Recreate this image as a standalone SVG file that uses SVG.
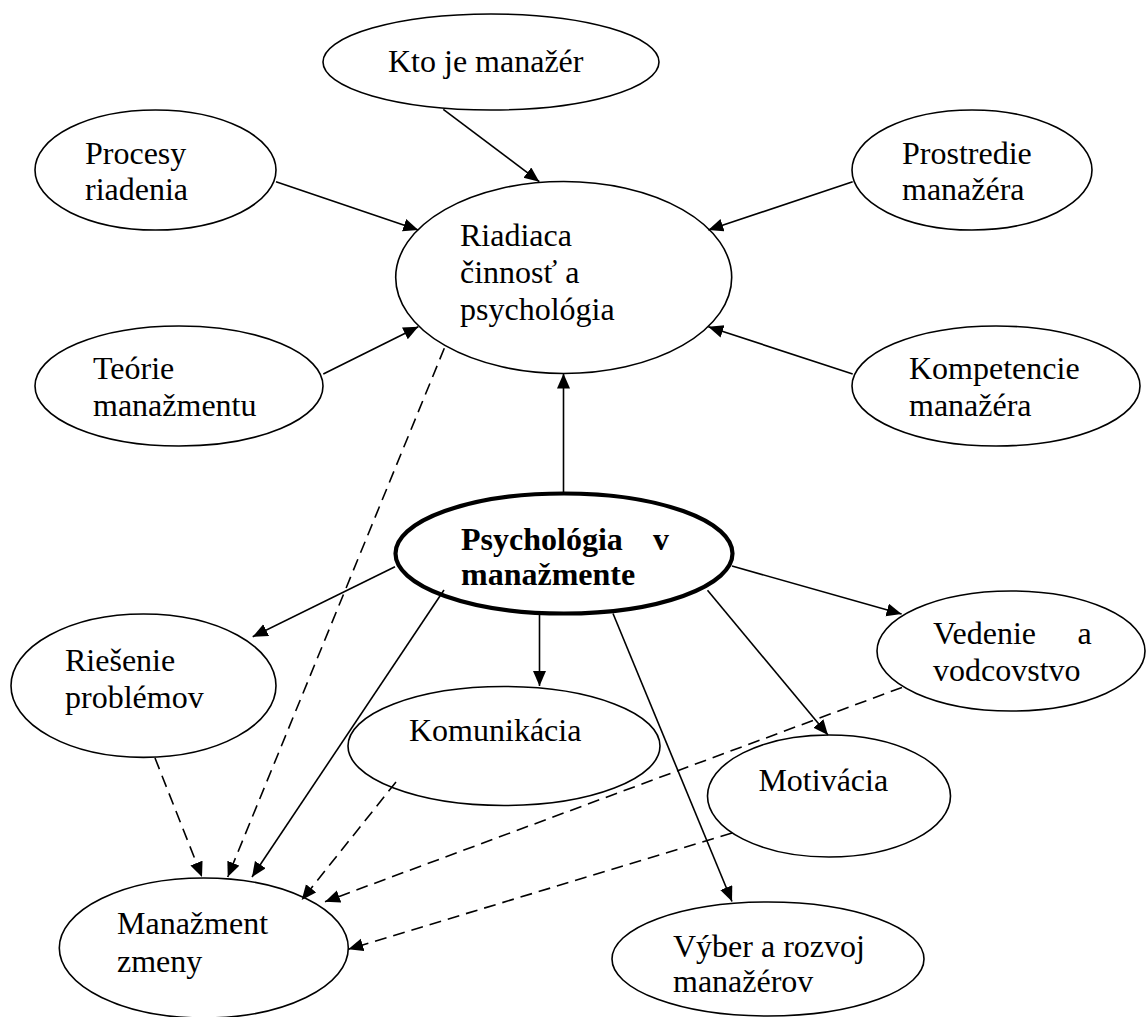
<svg xmlns="http://www.w3.org/2000/svg" width="1146" height="1017" viewBox="0 0 1146 1017">
<style>
.n{fill:#fff;stroke:#000;stroke-width:1.6}
.b{fill:#fff;stroke:#000;stroke-width:4.2}
.t{font-family:"Liberation Serif","Times New Roman",serif;font-size:32px;fill:#000}
.tb{font-family:"Liberation Serif","Times New Roman",serif;font-size:32px;font-weight:bold;fill:#000}
.c{fill:none;stroke:#000;stroke-width:1.6;marker-end:url(#ah)}
.d{stroke-dasharray:12 7}
</style>
<defs>
<marker id="ah" markerUnits="userSpaceOnUse" markerWidth="16" markerHeight="14" refX="15" refY="6.5" orient="auto">
<path d="M0,0 L15,6.5 L0,13 Z" fill="#000"/>
</marker>
</defs>
<rect width="1146" height="1017" fill="#fff"/>
<g id="kto"><ellipse class="n" cx="491" cy="62" rx="168" ry="48"/><text class="t" x="388" y="72">Kto je manažér</text></g>
<g id="procesy"><ellipse class="n" cx="155.5" cy="170" rx="120.5" ry="60"/><text class="t" x="85" y="164">Procesy</text><text class="t" x="85" y="200">riadenia</text></g>
<g id="prostredie"><ellipse class="n" cx="972" cy="170" rx="120" ry="60"/><text class="t" x="902" y="164">Prostredie</text><text class="t" x="902" y="200">manažéra</text></g>
<g id="riadiaca"><ellipse class="n" cx="563.7" cy="277.5" rx="168" ry="96"/><text class="t" x="460" y="246">Riadiaca</text><text class="t" x="460" y="283">činnosť a</text><text class="t" x="460" y="320">psychológia</text></g>
<g id="teorie"><ellipse class="n" cx="179" cy="386" rx="144" ry="60"/><text class="t" x="93" y="379">Teórie</text><text class="t" x="93" y="416">manažmentu</text></g>
<g id="kompetencie"><ellipse class="n" cx="996" cy="386" rx="144" ry="60"/><text class="t" x="909" y="379">Kompetencie</text><text class="t" x="909" y="416">manažéra</text></g>
<g id="psychologia"><ellipse class="b" cx="564" cy="553.5" rx="168.5" ry="60"/><text class="tb" x="461" y="550">Psychológia</text><text class="tb" x="653" y="550">v</text><text class="tb" x="461" y="585">manažmente</text></g>
<g id="riesenie"><ellipse class="n" cx="143.5" cy="685.7" rx="132.5" ry="71.7"/><text class="t" x="65" y="670.7">Riešenie</text><text class="t" x="65" y="708.3">problémov</text></g>
<g id="vedenie"><ellipse class="n" cx="1011" cy="651" rx="134" ry="60"/><text class="t" x="933" y="644">Vedenie</text><text class="t" x="1077.6" y="644">a</text><text class="t" x="933" y="681">vodcovstvo</text></g>
<g id="komunikacia"><ellipse class="n" cx="504" cy="746" rx="156" ry="59.5"/><text class="t" x="409" y="741">Komunikácia</text></g>
<g id="motivacia"><ellipse class="n" cx="829" cy="796" rx="121.5" ry="61"/><text class="t" x="758.4" y="791">Motivácia</text></g>
<g id="manazment-zmeny"><ellipse class="n" cx="203.8" cy="948" rx="144.5" ry="70"/><text class="t" x="117" y="934">Manažment</text><text class="t" x="117" y="972">zmeny</text></g>
<g id="vyber"><ellipse class="n" cx="768" cy="959" rx="156" ry="57"/><text class="t" x="673" y="957">Výber a rozvoj</text><text class="t" x="673" y="992">manažérov</text></g>
<g id="connectors">
<line class="c" x1="443.3" y1="109.3" x2="539.3" y2="181.7"/>
<line class="c" x1="276" y1="181.7" x2="418.3" y2="230"/>
<line class="c" x1="323.3" y1="374" x2="418.3" y2="326.7"/>
<line class="c" x1="852.7" y1="181.7" x2="708.3" y2="230"/>
<line class="c" x1="852.7" y1="374" x2="708.3" y2="326.7"/>
<line class="c" x1="563.5" y1="493.5" x2="563.5" y2="373.5"/>
<line class="c d" x1="444.3" y1="348.3" x2="227.7" y2="877"/>
<line class="c" x1="395" y1="566.7" x2="252.7" y2="636.7"/>
<line class="c" x1="444" y1="590" x2="252" y2="877"/>
<line class="c" x1="539.5" y1="613.5" x2="539.5" y2="686"/>
<line class="c" x1="732" y1="566" x2="901.6" y2="614"/>
<line class="c" x1="707.5" y1="590.3" x2="828" y2="735"/>
<line class="c" x1="613" y1="613.5" x2="732" y2="901.5"/>
<line class="c d" x1="155" y1="758" x2="202" y2="877"/>
<line class="c d" x1="396" y1="782" x2="301.7" y2="900"/>
<line class="c d" x1="902" y1="687.4" x2="325" y2="901.7"/>
<line class="c d" x1="732" y1="833" x2="348.3" y2="949.3"/>
</g>
</svg>
